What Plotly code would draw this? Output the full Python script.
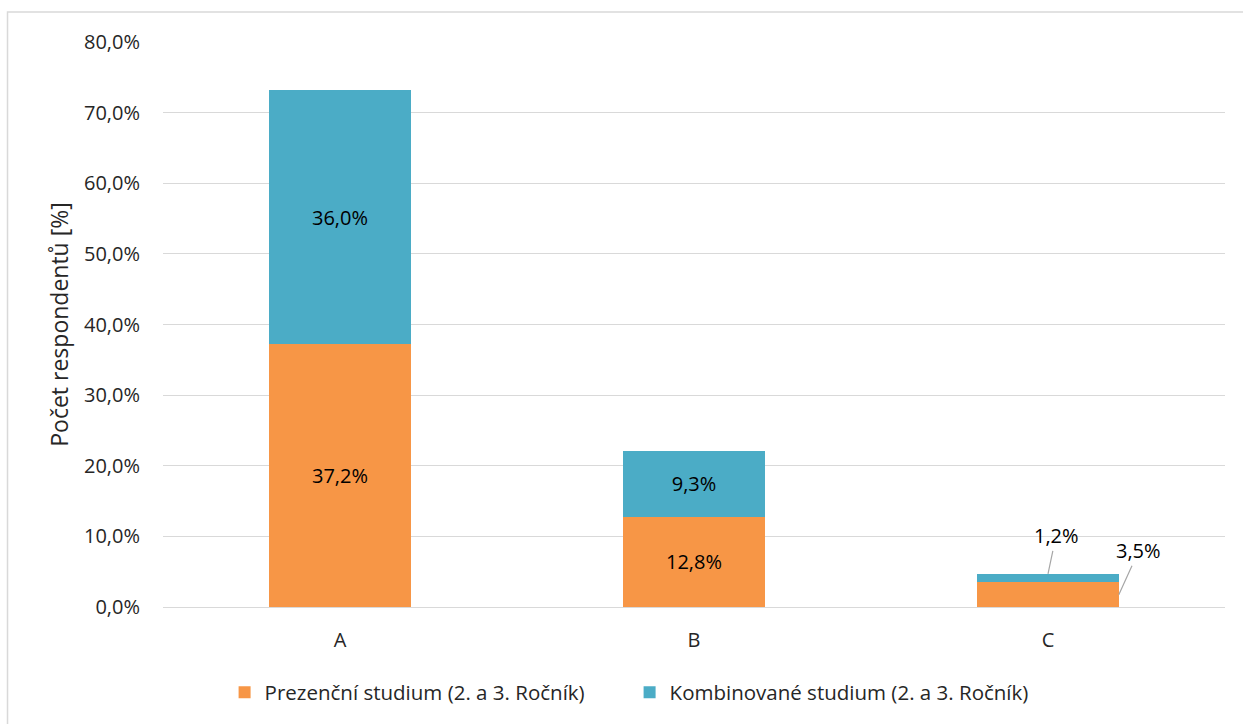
import plotly.graph_objects as go

# Survey results: share of respondents per answer, split by study form
categories = ["A", "B", "C"]
prezencni = [37.2, 12.8, 3.5]
kombinovane = [36.0, 9.3, 1.2]
series_names = ["Prezenční studium (2. a 3. Ročník)", "Kombinované studium (2. a 3. Ročník)"]
y_ticks = [0, 10, 20, 30, 40, 50, 60, 70, 80]

ORANGE = "#F79646"
BLUE = "#4BACC6"
FONT = "Open Sans"
TEXT = "#262626"
LABEL_SIZE = 20

# Small segments get outside labels with leader lines instead of inside text
inside_min = 5.0


def pct(v):
    return f"{v:.1f}".replace(".", ",") + "%"


def inside_text(vals):
    return [pct(v) if v >= inside_min else "" for v in vals]


fig = go.Figure()
fig.add_trace(go.Bar(
    x=categories, y=prezencni, name=series_names[0],
    marker=dict(color=ORANGE, line=dict(width=0)),
    text=inside_text(prezencni), textposition="inside", insidetextanchor="middle",
    textfont=dict(family=FONT, size=LABEL_SIZE, color="#000000"),
    width=0.4, hoverinfo="skip",
))
fig.add_trace(go.Bar(
    x=categories, y=kombinovane, name=series_names[1],
    marker=dict(color=BLUE, line=dict(width=0)),
    text=inside_text(kombinovane), textposition="inside", insidetextanchor="middle",
    textfont=dict(family=FONT, size=LABEL_SIZE, color="#000000"),
    width=0.4, hoverinfo="skip",
))

# Leader-line labels for category C
c_idx = categories.index("C")
fig.add_annotation(
    x=c_idx, y=prezencni[c_idx] + kombinovane[c_idx],
    text=pct(kombinovane[c_idx]),
    showarrow=True, arrowhead=0, arrowwidth=1.2, arrowcolor="#A6A6A6",
    ax=8, ay=-38, font=dict(family=FONT, size=LABEL_SIZE, color="#000000"),
)
fig.add_annotation(
    x=c_idx + 0.2, y=prezencni[c_idx] / 2,
    text=pct(prezencni[c_idx]),
    showarrow=True, arrowhead=0, arrowwidth=1.2, arrowcolor="#A6A6A6",
    ax=20, ay=-44, font=dict(family=FONT, size=LABEL_SIZE, color="#000000"),
)

# Outer chart border
fig.add_shape(
    type="rect", xref="paper", yref="paper",
    x0=-0.1464, x1=1.2, y0=-0.4, y1=1.0531,
    line=dict(color="#D9D9D9", width=1.5), fillcolor="rgba(0,0,0,0)", layer="below",
)

fig.update_layout(
    barmode="stack",
    width=1243, height=724,
    margin=dict(l=163, r=18, t=42, b=117),
    paper_bgcolor="white", plot_bgcolor="white",
    font=dict(family=FONT, size=LABEL_SIZE, color=TEXT),
    showlegend=True,
    legend=dict(
        orientation="h", x=0.058, xanchor="left", y=-0.151, yanchor="middle",
        font=dict(family=FONT, size=20.5, color=TEXT),
        traceorder="normal", itemwidth=30, entrywidth=360,
    ),
    xaxis=dict(
        showgrid=False, showline=False, zeroline=False, ticks="",
        tickfont=dict(family=FONT, size=LABEL_SIZE, color=TEXT), ticklabelstandoff=19,
        fixedrange=True,
    ),
    yaxis=dict(
        range=[0, 80], tickvals=y_ticks, ticktext=[pct(t) for t in y_ticks],
        showgrid=True, gridcolor="#D9D9D9", gridwidth=1.3,
        zeroline=True, zerolinecolor="#D9D9D9", zerolinewidth=1.3,
        showline=False, ticks="",
        tickfont=dict(family=FONT, size=LABEL_SIZE, color=TEXT), ticklabelstandoff=22,
        title=dict(text="Počet respondentů [%]", font=dict(family=FONT, size=23, color=TEXT), standoff=8),
        fixedrange=True,
    ),
)

fig.write_html("out.html")
